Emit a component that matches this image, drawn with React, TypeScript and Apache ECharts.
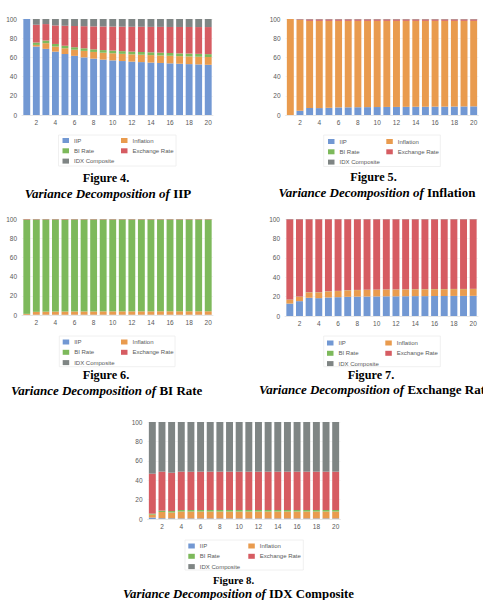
import React, { useEffect, useRef } from "react";
import * as echarts from "echarts";

// Forecast horizon (periods)
const periods = ["1", "2", "3", "4", "5", "6", "7", "8", "9", "10", "11", "12", "13", "14", "15", "16", "17", "18", "19", "20"];
const yTicks = [0, 20, 40, 60, 80, 100];

const seriesNames = ["IIP", "Inflation", "BI Rate", "Exchange Rate", "IDX Composite"];
const seriesColors = ["#7298d3", "#e99b4e", "#7db95b", "#d65c62", "#7f8584"];

// Figure 4: variance decomposition of IIP (%)
const fig4IIP = [100, 71.3, 68.9, 66.0, 63.6, 61.6, 60.0, 58.7, 57.7, 56.9, 56.2, 55.6, 55.1, 54.6, 54.2, 53.8, 53.4, 53.0, 52.7, 52.3];
const fig4Inflation = [0, 1.7, 5.9, 5.3, 6.0, 6.4, 6.8, 7.0, 7.2, 7.4, 7.5, 7.6, 7.7, 7.8, 7.8, 7.9, 7.9, 8.0, 8.0, 8.1];
const fig4BIRate = [0, 2.5, 2.8, 2.7, 2.6, 2.6, 2.7, 2.7, 2.7, 2.8, 2.8, 2.8, 2.8, 2.9, 2.9, 2.9, 2.9, 3.0, 3.0, 3.0];
const fig4Exchange = [0, 18.5, 17.1, 19.3, 20.8, 22.1, 23.0, 23.9, 24.6, 25.0, 25.5, 25.9, 26.3, 26.5, 26.9, 27.1, 27.5, 27.7, 27.9, 28.2];
const fig4IDX = [0, 6.0, 5.3, 6.7, 7.0, 7.3, 7.5, 7.7, 7.8, 7.9, 8.0, 8.1, 8.1, 8.2, 8.2, 8.3, 8.3, 8.3, 8.4, 8.4];

// Figure 5: variance decomposition of Inflation (%)
const fig5IIP = [0, 4.4, 7.3, 7.2, 7.5, 7.9, 8.0, 8.1, 8.2, 8.3, 8.4, 8.4, 8.5, 8.6, 8.6, 8.7, 8.7, 8.8, 8.9, 9.0];
const fig5Inflation = [100, 94.6, 90.6, 90.7, 90.4, 90.0, 89.9, 89.8, 89.7, 89.6, 89.5, 89.5, 89.4, 89.3, 89.3, 89.2, 89.2, 89.1, 89.0, 88.9];
const fig5BIRate = [0, 0.1, 0.2, 0.2, 0.2, 0.2, 0.2, 0.2, 0.2, 0.2, 0.2, 0.2, 0.2, 0.2, 0.2, 0.2, 0.2, 0.2, 0.2, 0.2];
const fig5Exchange = [0, 0.6, 1.5, 1.5, 1.5, 1.5, 1.5, 1.5, 1.5, 1.5, 1.5, 1.5, 1.5, 1.5, 1.5, 1.5, 1.5, 1.5, 1.5, 1.5];
const fig5IDX = [0, 0.3, 0.4, 0.4, 0.4, 0.4, 0.4, 0.4, 0.4, 0.4, 0.4, 0.4, 0.4, 0.4, 0.4, 0.4, 0.4, 0.4, 0.4, 0.4];

// Figure 6: variance decomposition of BI Rate (%)
const fig6IIP = [0.2, 0.3, 0.3, 0.3, 0.3, 0.3, 0.3, 0.3, 0.3, 0.3, 0.3, 0.3, 0.3, 0.3, 0.3, 0.3, 0.3, 0.3, 0.3, 0.3];
const fig6Inflation = [1.0, 3.0, 3.2, 3.3, 3.3, 3.4, 3.4, 3.4, 3.5, 3.5, 3.5, 3.5, 3.5, 3.5, 3.6, 3.6, 3.6, 3.6, 3.6, 3.6];
const fig6BIRate = [98.3, 96.2, 96.0, 95.9, 95.9, 95.8, 95.8, 95.8, 95.7, 95.7, 95.7, 95.7, 95.7, 95.7, 95.6, 95.6, 95.6, 95.6, 95.6, 95.6];
const fig6Exchange = [0.5, 0.4, 0.4, 0.4, 0.4, 0.4, 0.4, 0.4, 0.4, 0.4, 0.4, 0.4, 0.4, 0.4, 0.4, 0.4, 0.4, 0.4, 0.4, 0.4];
const fig6IDX = [0, 0.1, 0.1, 0.1, 0.1, 0.1, 0.1, 0.1, 0.1, 0.1, 0.1, 0.1, 0.1, 0.1, 0.1, 0.1, 0.1, 0.1, 0.1, 0.1];

// Figure 7: variance decomposition of Exchange Rate (%)
const fig7IIP = [12.8, 15.3, 18.8, 18.4, 19.1, 19.4, 19.8, 20.0, 20.1, 20.2, 20.3, 20.3, 20.4, 20.5, 20.5, 20.6, 20.6, 20.7, 20.7, 20.8];
const fig7Inflation = [3.9, 4.5, 5.5, 5.9, 6.2, 6.3, 6.6, 6.7, 6.8, 6.8, 6.9, 6.9, 6.9, 7.0, 7.0, 7.0, 7.0, 7.0, 7.0, 7.0];
const fig7BIRate = [0.2, 0.2, 0.2, 0.2, 0.2, 0.2, 0.2, 0.2, 0.2, 0.2, 0.2, 0.2, 0.2, 0.2, 0.2, 0.2, 0.2, 0.2, 0.2, 0.2];
const fig7Exchange = [82.8, 79.7, 75.2, 75.2, 74.2, 73.8, 73.1, 72.8, 72.6, 72.5, 72.3, 72.3, 72.2, 72.0, 72.0, 71.9, 71.9, 71.8, 71.8, 71.7];
const fig7IDX = [0.3, 0.3, 0.3, 0.3, 0.3, 0.3, 0.3, 0.3, 0.3, 0.3, 0.3, 0.3, 0.3, 0.3, 0.3, 0.3, 0.3, 0.3, 0.3, 0.3];

// Figure 8: variance decomposition of IDX Composite (%)
const fig8IIP = [1.5, 0.8, 0.7, 0.6, 0.6, 0.6, 0.6, 0.6, 0.6, 0.6, 0.6, 0.6, 0.6, 0.6, 0.6, 0.6, 0.6, 0.6, 0.6, 0.6];
const fig8Inflation = [3.0, 6.4, 6.0, 7.1, 7.1, 7.1, 7.1, 7.1, 7.1, 7.1, 7.1, 7.1, 7.1, 7.1, 7.1, 7.1, 7.1, 7.1, 7.1, 7.1];
const fig8BIRate = [1.0, 1.4, 1.5, 1.6, 1.6, 1.6, 1.6, 1.6, 1.6, 1.6, 1.6, 1.6, 1.6, 1.6, 1.6, 1.6, 1.6, 1.6, 1.6, 1.6];
const fig8Exchange = [41.2, 40.2, 39.5, 39.5, 39.4, 39.5, 39.5, 39.5, 39.5, 39.5, 39.5, 39.5, 39.5, 39.5, 39.5, 39.5, 39.5, 39.5, 39.5, 39.5];
const fig8IDX = [53.3, 51.2, 52.3, 51.2, 51.3, 51.2, 51.2, 51.2, 51.2, 51.2, 51.2, 51.2, 51.2, 51.2, 51.2, 51.2, 51.2, 51.2, 51.2, 51.2];

const figureNumbers = ["Figure 4.", "Figure 5.", "Figure 6.", "Figure 7.", "Figure 8."];
const figureSubjects = ["IIP", "Inflation", "BI Rate", "Exchange Rate", "IDX Composite"];

const panelData = [
  [fig4IIP, fig4Inflation, fig4BIRate, fig4Exchange, fig4IDX],
  [fig5IIP, fig5Inflation, fig5BIRate, fig5Exchange, fig5IDX],
  [fig6IIP, fig6Inflation, fig6BIRate, fig6Exchange, fig6IDX],
  [fig7IIP, fig7Inflation, fig7BIRate, fig7Exchange, fig7IDX],
  [fig8IIP, fig8Inflation, fig8BIRate, fig8Exchange, fig8IDX],
];

// Page layout of the five panels
const layouts = [
  { grid: { left: 22, top: 19, width: 191, height: 96 }, legL: 62.5, legR: 121, legTop: 137.5, box: [58.5, 135, 117.5, 31], cap1: [106, 178, 12.2], cap2: [108, 193, 13, "center"] },
  { grid: { left: 285.5, top: 19, width: 193, height: 96 }, legL: 328, legR: 386.3, legTop: 138.5, box: [323.7, 135, 116.6, 31.5], cap1: [373.5, 177, 12.2], cap2: [377, 192.7, 13, "center"] },
  { grid: { left: 22, top: 219, width: 191, height: 96 }, legL: 62.7, legR: 121, legTop: 339, box: [59.3, 336, 115.7, 30.7], cap1: [106, 375, 12.2], cap2: [106.7, 390, 13, "center"] },
  { grid: { left: 285, top: 219, width: 193, height: 97 }, legL: 327, legR: 385.3, legTop: 340, box: [323.7, 336, 116.6, 30.7], cap1: [371, 375, 12.2], cap2: [259, 389.5, 13, "left"] },
  { grid: { left: 147.5, top: 422, width: 193, height: 97 }, legL: 188.3, legR: 248.3, legTop: 543, box: [185, 540, 118.3, 30], cap1: [233.5, 580, 10.8], cap2: [238.5, 594, 12.8, "center"] },
];

const labelColor = "#595959";
const sansFont = "'Liberation Sans', Arial, sans-serif";
const serifFont = "'Liberation Serif', 'Times New Roman', serif";

function buildOption() {
  const grids: any[] = [];
  const xAxes: any[] = [];
  const yAxes: any[] = [];
  const series: any[] = [];
  const legends: any[] = [];
  const graphics: any[] = [];

  layouts.forEach((lay, p) => {
    grids.push({ ...lay.grid, containLabel: false });
    xAxes.push({
      type: "category",
      gridIndex: p,
      data: periods,
      axisTick: { show: false },
      axisLine: { show: true, lineStyle: { color: "#e3e3e3", width: 0.8 } },
      axisLabel: {
        interval: (index: number) => index % 2 === 1,
        color: labelColor,
        fontSize: 6.5,
        fontFamily: sansFont,
        margin: 4,
      },
    });
    yAxes.push({
      type: "value",
      gridIndex: p,
      min: yTicks[0],
      max: yTicks[yTicks.length - 1],
      interval: 20,
      axisLine: { show: false },
      axisTick: { show: false },
      splitLine: { lineStyle: { color: "#efefef", width: 0.6 } },
      axisLabel: { color: labelColor, fontSize: 6.5, fontFamily: sansFont, margin: 5 },
    });

    seriesNames.forEach((name, s) => {
      series.push({
        type: "bar",
        name,
        xAxisIndex: p,
        yAxisIndex: p,
        stack: "panel" + p,
        barCategoryGap: "28%",
        itemStyle: { color: seriesColors[s] },
        data: panelData[p][s],
      });
    });

    const legendBase = {
      orient: "vertical",
      top: lay.legTop,
      padding: 0,
      itemWidth: 6.5,
      itemHeight: 5,
      itemGap: 4.3,
      icon: "rect",
      selectedMode: false,
      textStyle: { color: labelColor, fontSize: 6, fontFamily: sansFont, lineHeight: 6 },
    };
    legends.push({ ...legendBase, left: lay.legL, data: ["IIP", "BI Rate", "IDX Composite"] });
    legends.push({ ...legendBase, left: lay.legR, data: ["Inflation", "Exchange Rate"] });

    const [bx, by, bw, bh] = lay.box as number[];
    graphics.push({
      type: "rect",
      shape: { x: bx, y: by, width: bw, height: bh },
      style: { fill: "none", stroke: "#ececec", lineWidth: 0.8 },
      silent: true,
      z: -1,
    });

    const [c1x, c1y, c1s] = lay.cap1 as number[];
    graphics.push({
      type: "text",
      x: c1x,
      y: c1y,
      style: {
        text: figureNumbers[p],
        fontFamily: serifFont,
        fontWeight: "bold",
        fontSize: c1s,
        fill: "#000000",
        align: "center",
        verticalAlign: "middle",
      },
    });

    const [c2x, c2y, c2s, c2a] = lay.cap2 as any[];
    graphics.push({
      type: "text",
      x: c2x,
      y: c2y,
      style: {
        text: "{it|Variance Decomposition of }{up|" + figureSubjects[p] + "}",
        align: c2a,
        verticalAlign: "middle",
        fill: "#000000",
        rich: {
          it: { fontFamily: serifFont, fontWeight: "bold", fontStyle: "italic", fontSize: c2s, fill: "#000000" },
          up: { fontFamily: serifFont, fontWeight: "bold", fontSize: c2s, fill: "#000000" },
        },
      },
    });
  });

  return {
    animation: false,
    backgroundColor: "#ffffff",
    grid: grids,
    xAxis: xAxes,
    yAxis: yAxes,
    legend: legends,
    series,
    graphic: graphics,
  };
}

export default function App() {
  const ref = useRef<HTMLDivElement>(null);

  useEffect(() => {
    if (!ref.current) return;
    const chart = echarts.init(ref.current, undefined, { renderer: "svg" });
    chart.setOption(buildOption() as any);
    return () => chart.dispose();
  }, []);

  return (
    <div
      ref={ref}
      style={{ position: "absolute", left: 0, top: 0, width: 483, height: 600, background: "#ffffff" }}
    />
  );
}
